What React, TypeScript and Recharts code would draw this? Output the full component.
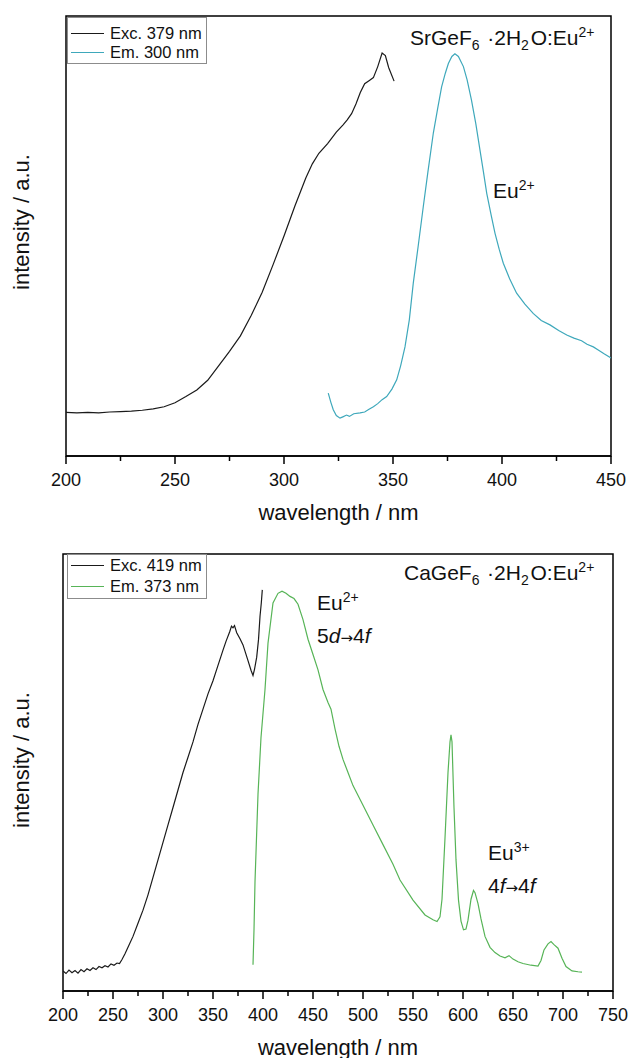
import React from "react";
import { LineChart, Line, XAxis, YAxis, ReferenceArea, Legend } from "recharts";

const FONT = '"Liberation Sans", Arial, Helvetica, sans-serif';
const INK = "#111";

// top panel: SrGeF6·2H2O:Eu2+
const srMajorTicks = [200, 250, 300, 350, 400, 450];
const srAllTicks = [200, 225, 250, 275, 300, 325, 350, 375, 400, 425, 450];

const srExcWavelength = [
	200, 205, 210, 215, 220, 225, 230, 235, 240, 245, 250, 255, 260, 265, 270, 275, 280, 285, 290, 295,
	300, 305, 310, 313, 316, 320, 324, 327, 329, 331, 333, 335, 337, 339, 341, 343, 345, 346.5, 348, 350.5,
];
const srExcIntensity = [
	9.9, 9.8, 9.9, 9.8, 10.0, 10.1, 10.2, 10.4, 10.7, 11.2, 12.1, 13.5, 15.0, 17.2, 20.5, 23.8, 27.3, 32.0,
	37.2, 43.5, 50.0, 56.8, 63.2, 66.4, 68.8, 71.0, 73.6, 75.2, 76.4, 77.8, 80.0, 82.6, 84.6, 85.3, 86.0,
	88.5, 91.6, 91.0, 88.3, 85.2,
];

const srEmWavelength = [
	320.3, 321.5, 322.6, 324, 325.7, 327, 328.7, 330, 332, 334.9, 337, 339, 341, 343, 345, 347.1, 349.5,
	351.7, 353.5, 355.5, 357.5, 359.3, 361.5, 363.9, 366, 368.5, 370.5, 372.3, 374, 375.4, 377, 378.4, 380,
	382.3, 384, 386, 388, 389.9, 391.5, 393, 395, 396.8, 398.7, 400.6, 403.5, 406.7, 410.5, 414.3, 418, 422,
	426, 429.7, 433, 436.5, 439, 441.9, 444.5, 447, 450,
];
const srEmIntensity = [
	14.3, 12.2, 10.5, 9.2, 8.6, 8.9, 9.3, 9.0, 9.6, 9.8, 10.0, 10.6, 11.2, 11.9, 12.8, 13.5, 15.2, 17.3,
	20.5, 24.8, 31.0, 39.3, 47.5, 56.7, 64.5, 73.4, 79.0, 83.9, 87.0, 89.2, 90.8, 91.4, 90.8, 88.5, 85.5,
	80.9, 75.5, 69.5, 64.5, 59.7, 54.8, 50.6, 47.0, 43.8, 40.3, 37.0, 34.5, 32.4, 30.8, 29.8, 28.5, 27.5,
	26.8, 26.2, 25.4, 24.8, 24.0, 23.2, 22.3,
];

// bottom panel: CaGeF6·2H2O:Eu2+
const caMajorTicks = [200, 250, 300, 350, 400, 450, 500, 550, 600, 650, 700, 750];
const caAllTicks = [
	200, 225, 250, 275, 300, 325, 350, 375, 400, 425, 450, 475, 500, 525, 550, 575, 600, 625, 650, 675,
	700, 725, 750,
];

const caExcWavelength = [
	200, 203, 206, 209, 212, 215, 218, 221, 224, 227, 230, 233, 236, 239, 242, 245, 248, 251, 254, 256.5,
	259, 262, 265, 270, 275, 280, 285, 290, 295, 300, 305, 310, 315, 320, 325, 330, 335, 340, 345, 350, 355,
	360, 363, 366.7, 368.5, 370, 371.5, 373.7, 377, 380, 385, 388, 390, 391.5, 393.7, 395.5, 397, 398.3,
	399.3,
];
const caExcIntensity = [
	4.6, 4.0, 4.8, 4.2, 4.7, 4.1, 4.9, 4.4, 5.1, 4.7, 5.3, 4.9, 5.6, 5.3, 5.8, 5.5, 6.2, 5.9, 6.4, 6.3, 7.2,
	8.5, 10.0, 12.5, 15.5, 18.5, 22.0, 26.0, 30.0, 34.0, 38.0, 42.0, 46.0, 50.0, 53.5, 57.0, 61.0, 64.5,
	68.0, 71.0, 74.5, 78.0, 80.0, 82.2, 83.5, 83.1, 83.6, 82.0, 80.6, 79.2, 75.6, 73.4, 72.2, 73.6, 76.4,
	80.4, 85.7, 88.8, 91.8,
];

const caEmWavelength = [
	390, 391, 392, 395, 398, 402, 405, 410, 415, 419, 423, 427, 431, 435, 440, 445, 450, 455, 460, 465,
	468, 472, 476, 480, 485, 490, 500, 510, 520, 530, 537, 550, 562, 570, 574, 577, 579, 582, 585, 587,
	588, 589, 591, 593, 595.5, 598, 600.5, 603, 605, 608, 610.5, 612, 615, 618, 622, 627, 632, 637, 642,
	646, 650, 655, 660, 668, 675, 678, 681, 685, 688, 691, 695, 699, 703, 709, 715, 719,
];
const caEmIntensity = [
	6.0, 14.0, 25.0, 45.0, 58.0, 69.0, 79.6, 88.8, 91.0, 91.5, 91.0, 90.3, 89.8, 88.5, 85.0, 80.5, 77.0,
	73.5, 69.0, 66.0, 64.5, 60.0, 56.0, 53.0, 50.0, 47.0, 42.5, 38.0, 33.5, 29.0, 25.4, 20.8, 17.4, 16.3,
	15.9, 17.0, 21.0, 35.0, 50.0, 57.0, 58.6, 57.0, 42.0, 30.0, 20.8, 16.0, 14.0, 14.2, 16.2, 21.0, 23.0,
	22.5, 20.0, 16.5, 12.5, 10.0, 8.8, 8.0, 7.6, 8.1, 7.3, 6.7, 6.3, 5.9, 5.7, 7.0, 9.4, 10.8, 11.3, 10.6,
	9.8, 7.5, 5.6, 4.6, 4.4, 4.3,
];

type Series = { name: string; color: string; data: { w: number; v: number }[] };

const toPoints = (xs: number[], ys: number[]) => xs.map((w, i) => ({ w, v: ys[i] }));

const makeTick = (majors: number[]) => (props: any) => {
	const { x, y, payload } = props;
	const major = majors.includes(payload.value);
	return (
		<g>
			<line x1={x} x2={x} y1={y} y2={y + (major ? 8 : 5)} stroke="#000" strokeWidth={1.5} />
			{major && (
				<text x={x} y={y + 30} textAnchor="middle" fontSize={18} fontFamily={FONT} fill={INK}>
					{payload.value}
				</text>
			)}
		</g>
	);
};

// legend drawn from the series list so order and colours follow the plot
const makeLegend = (series: Series[], rowHeight: number, padTop: number) => () => (
	<div
		style={{
			border: "1px solid #8c8c8c",
			background: "#fff",
			padding: `${padTop}px 2px 1px 3px`,
			fontFamily: FONT,
			fontSize: 16.5,
			lineHeight: `${rowHeight}px`,
			color: INK,
			width: 133,
		}}
	>
		{series.map((s) => (
			<div key={s.name} style={{ display: "flex", alignItems: "center", whiteSpace: "nowrap" }}>
				<span style={{ display: "inline-block", width: 33, borderTop: `1.3px solid ${s.color}`, marginRight: 6 }} />
				{s.name}
			</div>
		))}
	</div>
);

type PanelProps = {
	top: number;
	height: number;
	margin: { top: number; right: number; bottom: number; left: number };
	domain: [number, number];
	ticks: number[];
	majors: number[];
	axisHeight: number;
	titleOffset: number;
	series: Series[];
	legendTop: number;
	legendRow: number;
	legendPad: number;
};

function Panel(p: PanelProps) {
	return (
		<div style={{ position: "absolute", left: 0, top: p.top }}>
			<LineChart width={629} height={p.height} margin={p.margin}>
				<XAxis
					type="number"
					dataKey="w"
					domain={p.domain}
					ticks={p.ticks}
					interval={0}
					allowDataOverflow
					tickSize={0}
					tickMargin={0}
					tickLine={false}
					tick={makeTick(p.majors)}
					axisLine={{ stroke: "#000", strokeWidth: 1.5 }}
					height={p.axisHeight}
					label={{
						value: "wavelength / nm",
						position: "insideBottom",
						offset: p.titleOffset,
						fontSize: 22,
						fontFamily: FONT,
						fill: INK,
					}}
				/>
				<YAxis type="number" domain={[0, 100]} hide />
				<ReferenceArea x1={p.domain[0]} x2={p.domain[1]} y1={0} y2={100} fill="none" stroke="#000" strokeWidth={1.5} />
				{p.series.map((s) => (
					<Line
						key={s.name}
						name={s.name}
						data={s.data}
						dataKey="v"
						type="linear"
						stroke={s.color}
						strokeWidth={1.2}
						dot={false}
						activeDot={false}
						isAnimationActive={false}
					/>
				))}
				<Legend
					layout="vertical"
					align="center"
					verticalAlign="middle"
					wrapperStyle={{ left: 67, top: p.legendTop, width: 140 }}
					content={makeLegend(p.series, p.legendRow, p.legendPad)}
				/>
			</LineChart>
		</div>
	);
}

const sub = (t: string) => (
	<>
		<tspan dy={5} fontSize={14}>
			{t}
		</tspan>
		<tspan dy={-5}>{"\u200A"}</tspan>
	</>
);

const sup = (t: string) => (
	<tspan dy={-8} fontSize={14}>
		{t}
	</tspan>
);

const arrow = (
	<tspan fontFamily='"DejaVu Sans", sans-serif' fontSize={15}>
		{"\u2192"}
	</tspan>
);

export default function App() {
	return (
		<div
			style={{
				position: "absolute",
				left: 0,
				top: 0,
				width: 629,
				height: 1058,
				background: "#fff",
				overflow: "hidden",
			}}
		>
			<Panel
				top={0}
				height={540}
				margin={{ top: 16, right: 18, bottom: 19, left: 66 }}
				domain={[200, 450]}
				ticks={srAllTicks}
				majors={srMajorTicks}
				axisHeight={65}
				titleOffset={1}
				series={[
					{ name: "Exc. 379 nm", color: "#1a1a1a", data: toPoints(srExcWavelength, srExcIntensity) },
					{ name: "Em. 300 nm", color: "#3ea8bb", data: toPoints(srEmWavelength, srEmIntensity) },
				]}
				legendTop={17}
				legendRow={19}
				legendPad={6}
			/>
			<Panel
				top={540}
				height={518}
				margin={{ top: 14, right: 16, bottom: 1, left: 63 }}
				domain={[200, 750]}
				ticks={caAllTicks}
				majors={caMajorTicks}
				axisHeight={66}
				titleOffset={2}
				series={[
					{ name: "Exc. 419 nm", color: "#1a1a1a", data: toPoints(caExcWavelength, caExcIntensity) },
					{ name: "Em. 373 nm", color: "#57b457", data: toPoints(caEmWavelength, caEmIntensity) },
				]}
				legendTop={14}
				legendRow={21}
				legendPad={0}
			/>
			<svg
				width={629}
				height={1058}
				style={{ position: "absolute", left: 0, top: 0, pointerEvents: "none" }}
				fontFamily={FONT}
				fill={INK}
			>
				<text transform="translate(29,222) rotate(-90)" textAnchor="middle" fontSize={22}>
					intensity / a.u.
				</text>
				<text transform="translate(29,760) rotate(-90)" textAnchor="middle" fontSize={22}>
					intensity / a.u.
				</text>

				<text x={410} y={45} fontSize={21}>
					SrGeF{sub("6")} ·2H{sub("2")}O:Eu{sup("2+")}
				</text>
				<text x={493} y={198} fontSize={21}>
					Eu{sup("2+")}
				</text>

				<text x={404} y={580} fontSize={21}>
					CaGeF{sub("6")} ·2H{sub("2")}O:Eu{sup("2+")}
				</text>
				<text x={317} y={610} fontSize={21}>
					Eu{sup("2+")}
				</text>
				<text x={317} y={643} fontSize={21}>
					5<tspan fontStyle="italic">d</tspan>
					{arrow}4<tspan fontStyle="italic">f</tspan>
				</text>
				<text x={488} y={860} fontSize={21}>
					Eu{sup("3+")}
				</text>
				<text x={488} y={893} fontSize={21}>
					4<tspan fontStyle="italic">f</tspan>
					{arrow}4<tspan fontStyle="italic">f</tspan>
				</text>
			</svg>
		</div>
	);
}
